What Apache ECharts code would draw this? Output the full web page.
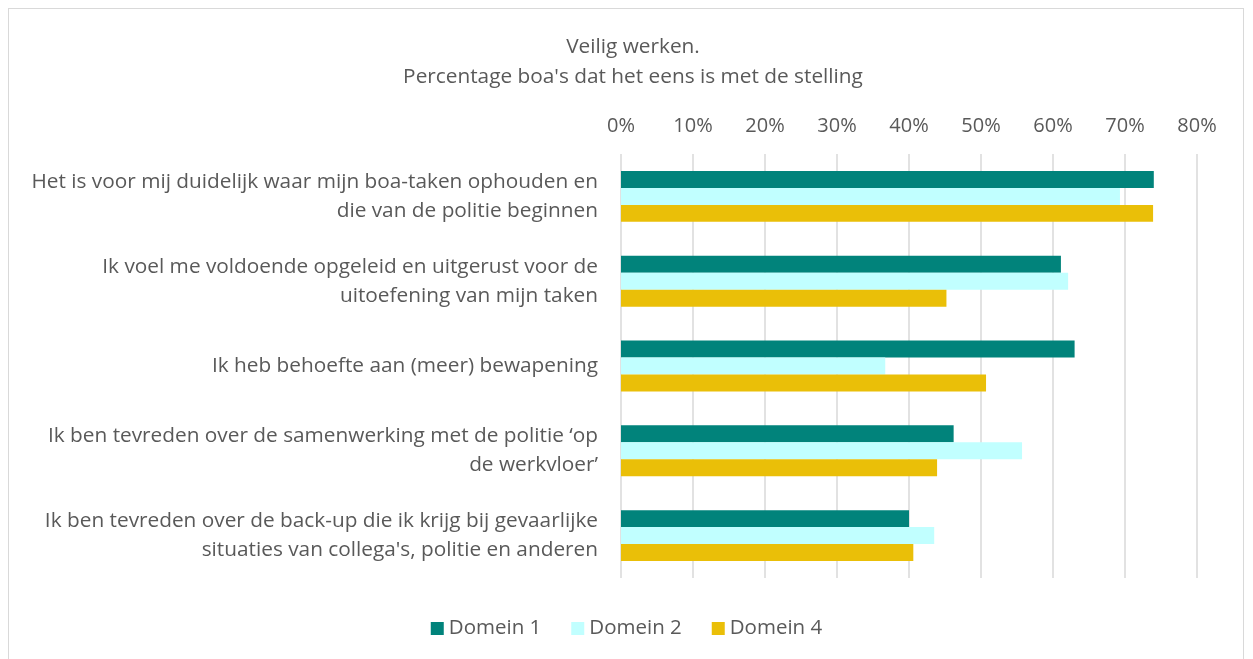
<!DOCTYPE html>
<html>
<head>
<meta charset="utf-8">
<script src="https://cdn.jsdelivr.net/npm/echarts@6/dist/echarts.min.js"></script>
<style>
html,body{margin:0;padding:0;background:#fff;}
#frame{position:absolute;left:8px;top:8px;width:1236px;height:660px;border:1px solid #d9d9d9;box-sizing:border-box;}
#chart{position:absolute;left:0;top:0;width:1253px;height:659px;}
</style>
</head>
<body>
<div id="frame"></div>
<div id="chart"></div>
<script>
var categories = [
	"Het is voor mij duidelijk waar mijn boa-taken ophouden en\ndie van de politie beginnen",
	"Ik voel me voldoende opgeleid en uitgerust voor de\nuitoefening van mijn taken",
	"Ik heb behoefte aan (meer) bewapening",
	"Ik ben tevreden over de samenwerking met de politie \u2018op\nde werkvloer\u2019",
	"Ik ben tevreden over de back-up die ik krijg bij gevaarlijke\nsituaties van collega's, politie en anderen"
];
var legends = ["Domein 1", "Domein 2", "Domein 4"];
var domein1 = [74.0, 61.1, 63.0, 46.2, 40.0];
var domein2 = [69.3, 62.1, 36.7, 55.7, 43.5];
var domein4 = [73.9, 45.2, 50.7, 43.9, 40.6];
var colors = ["#01837b", "#c1ffff", "#eabf08"];

var font = "'Open Sans', sans-serif";
var txt = "#595959";

function getSeries(values, names){
	var array = [];
	for (var i = 0; i < values.length; i++) {
		array.push({
			name: names[i],
			type: 'bar',
			data: values[i],
			barGap: '0%',
			barCategoryGap: '40%',
			itemStyle: {color: colors[i]}
		});
	}
	return array;
}

var option = {
	animation: false,
	textStyle: {fontFamily: font},
	title: {
		text: "Veilig werken.\nPercentage boa's dat het eens is met de stelling",
		left: 628, top: 27, textAlign: 'center',
		textStyle: {fontFamily: font, fontSize: 20.8, fontWeight: 'normal', color: txt, lineHeight: 30}
	},
	legend: {
		data: legends,
		bottom: 15, left: 'center',
		itemWidth: 13, itemHeight: 13, itemGap: 30,
		icon: 'rect',
		textStyle: {fontFamily: font, fontSize: 20.5, color: txt}
	},
	grid: {left: 621, right: 56, top: 154, bottom: 81},
	xAxis: {
		type: 'value', position: 'top',
		min: 0, max: 80, interval: 10,
		axisLine: {show: false}, axisTick: {show: false},
		axisLabel: {formatter: '{value}%', fontFamily: font, fontSize: 20, color: txt, margin: 18},
		splitLine: {lineStyle: {color: '#d9d9d9', width: 1.5}}
	},
	yAxis: {
		type: 'category', inverse: true,
		data: categories,
		axisLine: {show: false}, axisTick: {show: false},
		axisLabel: {fontFamily: font, fontSize: 20.8, color: txt, lineHeight: 29, margin: 23, align: 'right'}
	},
	series: getSeries([domein1, domein2, domein4], legends)
};

var myChart = echarts.init(document.getElementById('chart'));
myChart.setOption(option);
</script>
</body>
</html>
